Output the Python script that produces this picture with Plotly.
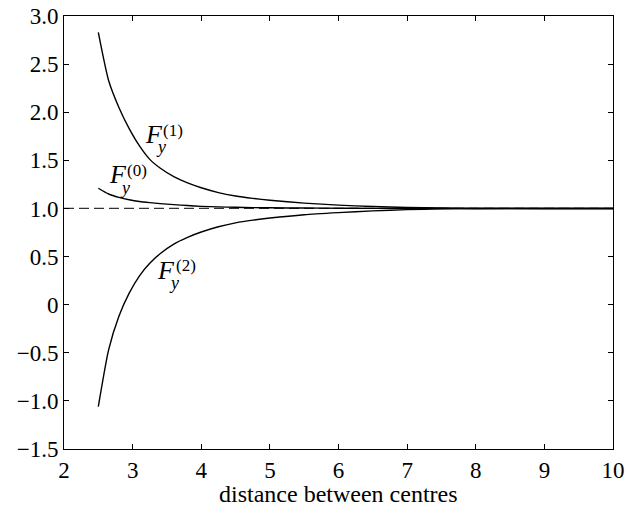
import plotly.graph_objects as go

# distance between centres
x_vals = [2.5, 2.65, 2.8, 2.95, 3.1, 3.25, 3.4, 3.6, 3.8, 4.0, 4.25, 4.5, 4.75, 5.0, 5.5, 6.0, 6.5, 7.0, 7.5, 8.0, 9.0, 10.0]
fy0 = [1.21, 1.15, 1.115, 1.09, 1.072, 1.06, 1.05, 1.04, 1.03, 1.022, 1.016, 1.012, 1.009, 1.007, 1.004, 1.002, 1.001, 1.0005, 1.0, 1.0, 1.0, 1.0]
fy1 = [2.83, 2.33, 2.05, 1.83, 1.65, 1.51, 1.42, 1.33, 1.265, 1.215, 1.165, 1.13, 1.105, 1.085, 1.055, 1.035, 1.02, 1.01, 1.004, 1.0, 1.0, 1.0]
fy2 = [-1.06, -0.47, -0.12, 0.12, 0.30, 0.43, 0.53, 0.63, 0.70, 0.755, 0.81, 0.85, 0.878, 0.90, 0.935, 0.957, 0.975, 0.988, 0.996, 1.0, 1.0, 1.0]
ref_x = [2, 10]
ref_y = [1, 1]

x_ticks = [2, 3, 4, 5, 6, 7, 8, 9, 10]
y_ticks = [-1.5, -1.0, -0.5, 0, 0.5, 1.0, 1.5, 2.0, 2.5, 3.0]
y_ticktext = ["\u22121.5", "\u22121.0", "\u22120.5", "0", "0.5", "1.0", "1.5", "2.0", "2.5", "3.0"]
x_title = "distance between centres"

# labels: (F x, F y, sub x, sub y, sup x, sup y, sup text)
labels = [
    (3.31, 1.77, 3.41, 1.635, 3.59, 1.81, "(1)"),
    (2.79, 1.35, 2.89, 1.215, 3.07, 1.39, "(0)"),
    (3.49, 0.36, 3.60, 0.23, 3.78, 0.41, "(2)"),
]

FONT = "Liberation Serif"

fig = go.Figure()
fig.add_trace(go.Scatter(x=ref_x, y=ref_y, mode="lines",
                         line=dict(color="#333333", width=1.3, dash="10px,5px"),
                         showlegend=False, hoverinfo="skip"))
for ys in (fy0, fy1, fy2):
    fig.add_trace(go.Scatter(x=x_vals, y=ys, mode="lines",
                             line=dict(color="black", width=1.4, shape="spline", smoothing=0.6),
                             showlegend=False))

for fx, fyy, sx, sy, px, py, sup in labels:
    fig.add_annotation(x=fx, y=fyy, text="<i>F</i>", showarrow=False,
                       font=dict(family=FONT, size=26, color="black"),
                       xanchor="center", yanchor="middle")
    fig.add_annotation(x=sx, y=sy, text="<i>y</i>", showarrow=False,
                       font=dict(family=FONT, size=18, color="black"),
                       xanchor="center", yanchor="middle")
    fig.add_annotation(x=px, y=py, text=sup, showarrow=False,
                       font=dict(family=FONT, size=17, color="black"),
                       xanchor="center", yanchor="middle")

fig.add_annotation(x=0.5, y=-0.105, xref="paper", yref="paper", text=x_title,
                   showarrow=False, font=dict(family=FONT, size=24, color="black"),
                   xanchor="center", yanchor="middle")

axis_common = dict(showgrid=False, zeroline=False, showline=True, linecolor="black",
                   linewidth=1, mirror="ticks", ticks="inside", ticklen=5,
                   tickcolor="black", tickwidth=1, automargin=False,
                   ticklabeloverflow="allow",
                   tickfont=dict(family=FONT, size=23, color="black"))

fig.update_xaxes(range=[2, 10], tickvals=x_ticks, **axis_common)
fig.update_yaxes(range=[-1.5, 3.0], tickvals=y_ticks, ticktext=y_ticktext,
                 **axis_common)

fig.update_layout(width=627, height=508,
                  margin=dict(l=64, r=14, t=16, b=59),
                  plot_bgcolor="white", paper_bgcolor="white",
                  font=dict(family=FONT, color="black"))

fig.write_html("out.html", config={"displayModeBar": False},
               post_script="document.body.style.margin='0';document.body.style.overflow='hidden';")
